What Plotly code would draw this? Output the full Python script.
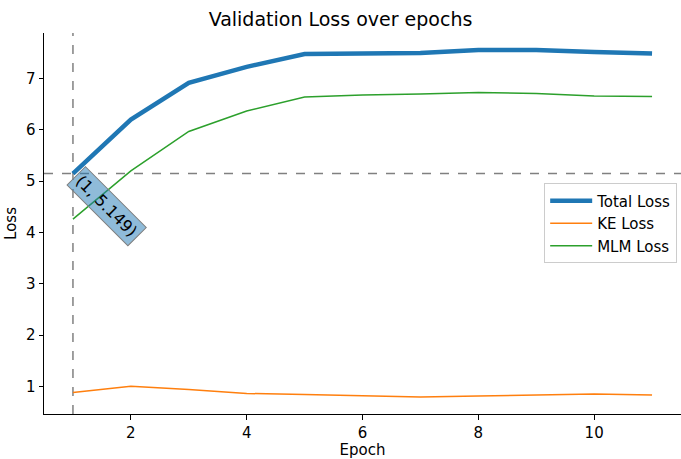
import plotly.graph_objects as go

epochs = [1, 2, 3, 4, 5, 6, 7, 8, 9, 10, 11]
total_loss = [5.149, 6.20, 6.92, 7.23, 7.48, 7.50, 7.50, 7.56, 7.56, 7.52, 7.49]
ke_loss = [0.88, 1.00, 0.94, 0.86, 0.84, 0.81, 0.79, 0.81, 0.83, 0.85, 0.83]
mlm_loss = [4.26, 5.20, 5.97, 6.37, 6.64, 6.68, 6.70, 6.73, 6.71, 6.66, 6.65]
best_epoch = 1
best_value = 5.149

font = "DejaVu Sans, Arial, sans-serif"
fig = go.Figure()
fig.add_trace(go.Scatter(x=epochs, y=total_loss, mode="lines", name="Total Loss",
                         line=dict(color="#1f77b4", width=4.5)))
fig.add_trace(go.Scatter(x=epochs, y=ke_loss, mode="lines", name="KE Loss",
                         line=dict(color="#ff7f0e", width=1.5)))
fig.add_trace(go.Scatter(x=epochs, y=mlm_loss, mode="lines", name="MLM Loss",
                         line=dict(color="#2ca02c", width=1.5)))

fig.add_vline(x=best_epoch, line=dict(color="gray", width=1.5, dash="dash"), layer="below")
fig.add_hline(y=best_value, line=dict(color="gray", width=1.5, dash="dash"), layer="below")

fig.add_annotation(x=best_epoch, y=best_value, xref="x", yref="y",
                   text=f"({best_epoch}, {best_value})", showarrow=False,
                   textangle=45, xanchor="center", yanchor="middle",
                   xshift=34, yshift=-33,
                   font=dict(family=font, size=16, color="black"),
                   bgcolor="rgba(31,119,180,0.5)", bordercolor="gray",
                   borderwidth=1, borderpad=3)

axis_common = dict(showgrid=False, zeroline=False, showline=True, linecolor="black",
                   linewidth=1, ticks="outside", ticklen=4.5, tickcolor="black",
                   tickfont=dict(family=font, size=15, color="black"), mirror=False)

fig.update_layout(
    width=681, height=459,
    paper_bgcolor="white", plot_bgcolor="white",
    margin=dict(l=44, r=0, t=33, b=45),
    title=dict(text="Validation Loss over epochs", x=0.5, xanchor="center",
               y=0.9586, yanchor="middle",
               font=dict(family=font, size=19, color="black")),
    xaxis=dict(range=[0.5, 11.5], tickvals=[2, 4, 6, 8, 10],
               title=dict(text="Epoch", font=dict(family=font, size=15, color="black"), standoff=3),
               **axis_common),
    yaxis=dict(range=[0.46, 7.89], tickvals=[1, 2, 3, 4, 5, 6, 7],
               title=dict(text="Loss", font=dict(family=font, size=15, color="black"), standoff=5),
               **axis_common),
    legend=dict(x=0.994, y=0.605, xanchor="right", yanchor="top",
                bgcolor="rgba(255,255,255,0.8)", bordercolor="#cccccc", borderwidth=1,
                itemwidth=42,
                font=dict(family=font, size=15, color="black")),
    showlegend=True,
)

fig.write_html("out.html", config={"displayModeBar": False},
               post_script="document.body.style.margin='0';document.body.style.overflow='hidden';")
